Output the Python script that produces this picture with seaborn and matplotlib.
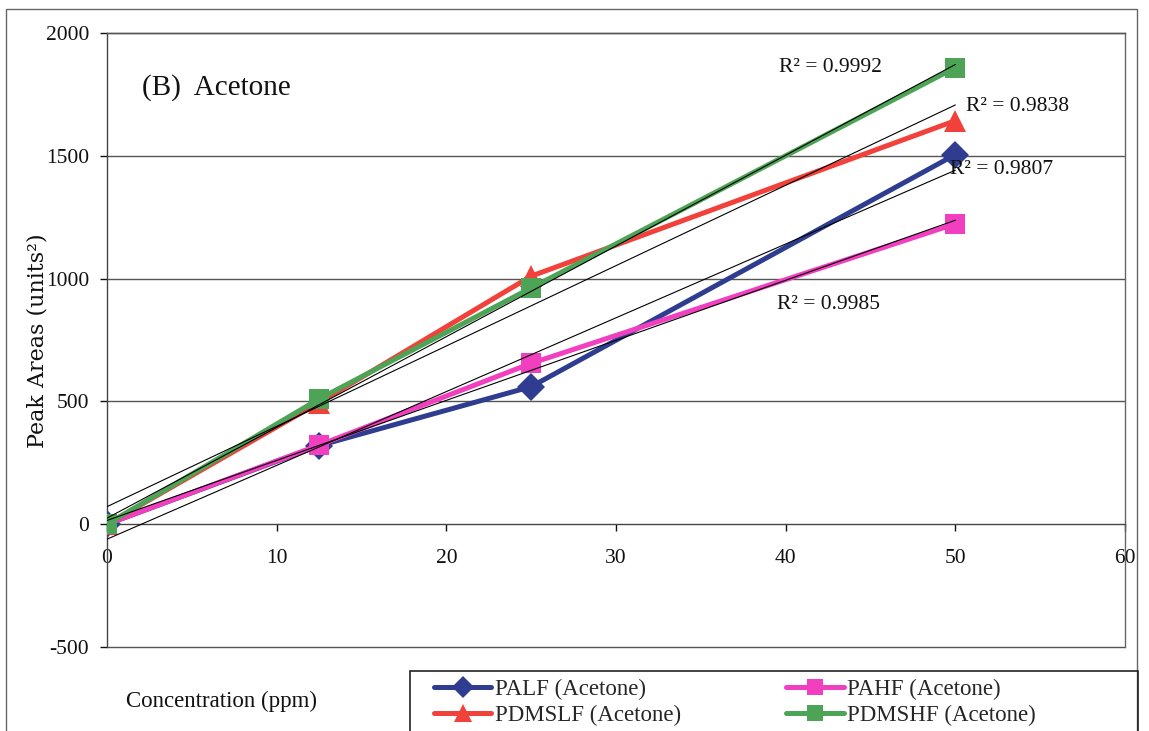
import numpy as np
import pandas as pd
import seaborn as sns
import matplotlib
matplotlib.use("Agg")
import matplotlib.pyplot as plt
from matplotlib.patches import Rectangle

# Concentration levels (ppm) and measured peak areas for each fibre
concentration = [0, 12.5, 25, 50]
palf = [0, 320, 560, 1505]
pahf = [0, 322, 655, 1223]
pdmslf = [0, 495, 1010, 1643]
pdmshf = [0, 510, 962, 1859]

series_names = ["PALF (Acetone)", "PAHF (Acetone)", "PDMSLF (Acetone)", "PDMSHF (Acetone)"]
r2_labels = ["0.9807", "0.9985", "0.9838", "0.9992"]
y_ticks = [-500, 0, 500, 1000, 1500, 2000]
x_ticks = [0, 10, 20, 30, 40, 50, 60]

sns.set_theme(style="white")
plt.rcParams["font.family"] = ["Liberation Serif", "DejaVu Serif"]
plt.rcParams["axes.unicode_minus"] = False

colors = ["#2E3D8F", "#F23FC0", "#F2403A", "#4DA456"]
markers = ["D", "s", "^", "s"]
msizes = [14, 15, 16, 15]
values = [palf, pahf, pdmslf, pdmshf]

W, H = 1149, 731
fig = plt.figure(figsize=(W / 100, H / 100), dpi=100)
ax = fig.add_axes([107 / W, 1 - 647 / H, (1125 - 107) / W, (647 - 33) / H])

# Horizontal gridlines at every major y tick
for yv in y_ticks:
    if yv != 0:
        ax.axhline(yv, color="#555555", lw=1.0, zorder=0, clip_on=False)

handles = {}
for name, vals, c, m, ms in zip(series_names, values, colors, markers, msizes):
    sns.lineplot(x=concentration, y=vals, ax=ax, color=c, lw=3.6, marker=m,
                 markersize=ms, markeredgewidth=0, label=name, zorder=3)
    handles[name] = ax.lines[-1]

# Linear trendlines for each series
df = pd.DataFrame({"conc": concentration * 4,
                   "area": palf + pahf + pdmslf + pdmshf,
                   "series": np.repeat(series_names, len(concentration))})
for name in series_names:
    sub = df[df["series"] == name]
    sns.regplot(data=sub, x="conc", y="area", ax=ax, scatter=False, ci=None,
                truncate=True, line_kws=dict(color="black", lw=0.8, zorder=5))

ax.set_xlim(0, 60)
ax.set_ylim(-500, 2000)
ax.set_xticks(x_ticks)
ax.set_yticks(y_ticks)
ax.set_xlabel("")
ax.set_ylabel("")
ax.tick_params(axis="both", labelsize=15.5, colors="#111111")
ax.tick_params(axis="y", direction="out", length=5, width=1, pad=8, left=True)
ax.tick_params(axis="x", direction="out", length=5, width=1, pad=13, bottom=True)

ax.spines["bottom"].set_position(("data", 0))
ax.spines["bottom"].set_color("#444444")
ax.spines["left"].set_color("#444444")
ax.spines["right"].set_color("#666666")
ax.spines["top"].set_color("#555555")
for s in ax.spines.values():
    s.set_linewidth(1.0)
if ax.get_legend() is not None:
    ax.get_legend().remove()

# Panel title and goodness-of-fit annotations
ax.text(0.034, 0.912, "(B)  Acetone", transform=ax.transAxes, fontsize=21,
        va="center", ha="left", color="#111111")
r2_pos = [(49.7, 1443), (39.5, 893), (50.6, 1700), (39.6, 1859)]
for lab, (xp, yp) in zip(r2_labels, r2_pos):
    ax.text(xp, yp, "R² = " + lab, fontsize=15.5, va="center", ha="left",
            color="#111111")

fig.text(38 / W, 1 - 341 / H, "Peak Areas (units²)", rotation=90,
         fontsize=16, va="center", ha="center", family="DejaVu Serif",
         color="#111111")
fig.text(222 / W, 1 - 701 / H, "Concentration (ppm)", fontsize=16.5,
         va="center", ha="center", color="#111111")

# Legend in two columns inside a box along the bottom edge
order = ["PALF (Acetone)", "PDMSLF (Acetone)", "PAHF (Acetone)", "PDMSHF (Acetone)"]
fig.legend([handles[n] for n in order], order, ncol=2,
           bbox_to_anchor=(434 / W, 1 - 679 / H), loc="upper left",
           fontsize=16.5, frameon=False, handlelength=2.5, handletextpad=0.15,
           labelspacing=0.2, columnspacing=4.6, borderpad=0, borderaxespad=0,
           markerscale=0.8)
fig.patches.append(Rectangle((410 / W, -0.05), (1138 - 410) / W, 1 - 671 / H + 0.05,
                             transform=fig.transFigure, fill=False,
                             edgecolor="#222222", lw=1.2, zorder=2))

# Outer chart border
fig.patches.append(Rectangle((6 / W, -0.05), (1137 - 6) / W, 1 - 9 / H + 0.05,
                             transform=fig.transFigure, fill=False,
                             edgecolor="#666666", lw=1.0, zorder=0))

fig.savefig("out.png", dpi=100, facecolor="white")
